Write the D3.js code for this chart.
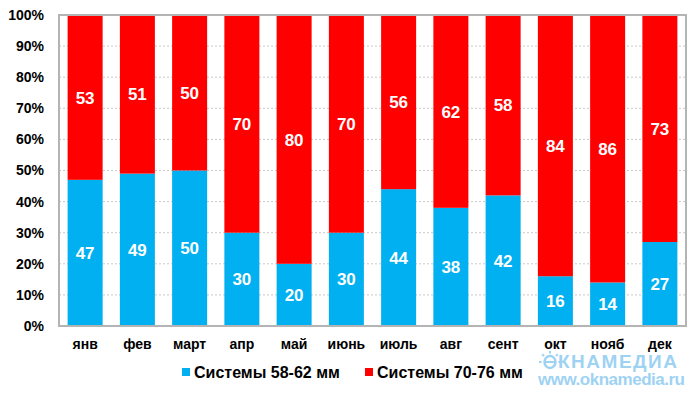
<!DOCTYPE html>
<html>
<head>
<meta charset="utf-8">
<script src="https://cdn.jsdelivr.net/npm/d3@7"></script>
<style>
  body { margin: 0; background: #fff; }
  text { font-family: Arial, "Liberation Sans", sans-serif; font-weight: bold; }
</style>
</head>
<body>
<div id="chart"></div>
<script>
// data
var months = ["янв", "фев", "март", "апр", "май", "июнь", "июль", "авг", "сент", "окт", "нояб", "дек"];
var small = [47, 49, 50, 30, 20, 30, 44, 38, 42, 16, 14, 27];
var large = [53, 51, 50, 70, 80, 70, 56, 62, 58, 84, 86, 73];
var seriesNames = ["Системы 58-62 мм", "Системы 70-76 мм"];
var yTicks = [0, 10, 20, 30, 40, 50, 60, 70, 80, 90, 100];

var svgWidth = 700, svgHeight = 394;
var margin = {top: 15, right: 14, bottom: 68, left: 59};
var width = svgWidth - margin.left - margin.right;
var height = svgHeight - margin.top - margin.bottom;

var svg = d3.select("#chart").append("svg")
  .attr("width", svgWidth)
  .attr("height", svgHeight);

var g = svg.append("g")
  .attr("transform", `translate(${margin.left},${margin.top})`);

var x = d3.scaleBand().domain(months).range([0, width]).paddingInner(0.33).paddingOuter(0.165);
var y = d3.scaleLinear().domain([0, 100]).range([height, 0]);

// gridlines
g.selectAll(".grid").data(yTicks.slice(1, -1)).enter().append("line")
  .attr("x1", 0).attr("x2", width)
  .attr("y1", d => y(d)).attr("y2", d => y(d))
  .attr("stroke", "#c8c8c8").attr("stroke-dasharray", "2,2");

var data = months.map((m, i) => ({m: m, a: small[i], b: large[i]}));

// blue
g.selectAll(".barA").data(data).enter().append("rect")
  .attr("x", d => x(d.m)).attr("width", x.bandwidth())
  .attr("y", d => y(d.a)).attr("height", d => height - y(d.a))
  .attr("fill", "#00B0F0");
// red
g.selectAll(".barB").data(data).enter().append("rect")
  .attr("x", d => x(d.m)).attr("width", x.bandwidth())
  .attr("y", d => y(d.a + d.b)).attr("height", d => y(d.a) - y(d.a + d.b))
  .attr("fill", "#FF0000");

// value labels
g.selectAll(".lblA").data(data).enter().append("text")
  .attr("x", d => x(d.m) + x.bandwidth() / 2)
  .attr("y", d => y(d.a / 2)).attr("dy", "0.36em")
  .attr("text-anchor", "middle").attr("fill", "#fff").style("font-size", "17px")
  .text(d => d.a);
g.selectAll(".lblB").data(data).enter().append("text")
  .attr("x", d => x(d.m) + x.bandwidth() / 2)
  .attr("y", d => y(d.a + d.b / 2)).attr("dy", "0.36em")
  .attr("text-anchor", "middle").attr("fill", "#fff").style("font-size", "17px")
  .text(d => d.b);

// plot border
g.append("rect").attr("width", width).attr("height", height)
  .attr("fill", "none").attr("stroke", "#b4b4b4").attr("stroke-width", 2);

// y axis
var yAxis = g.append("g")
  .call(d3.axisLeft(y).tickValues(yTicks).tickFormat(d => d + "%").tickSize(0).tickPadding(15));
yAxis.select(".domain").remove();
yAxis.selectAll("text").style("font-size", "14px").attr("fill", "#000");

// x axis
var xAxis = g.append("g").attr("transform", `translate(0,${height})`)
  .call(d3.axisBottom(x).tickSize(0).tickPadding(13));
xAxis.select(".domain").remove();
xAxis.selectAll("text").style("font-size", "14px").attr("fill", "#000");

// legend
var legend = svg.append("g").attr("transform", "translate(182,372)");
var legendColors = ["#00B0F0", "#FF0000"];
var legendX = [0, 183];
seriesNames.forEach(function(name, i) {
  legend.append("rect").attr("x", legendX[i]).attr("y", -4).attr("width", 8).attr("height", 8)
    .attr("fill", legendColors[i]);
  legend.append("text").attr("x", legendX[i] + 12).attr("y", 0).attr("dy", "0.36em")
    .style("font-size", "16px").attr("fill", "#000").text(name);
});

// watermark
var wm = svg.append("g").attr("opacity", 0.45);
var wmColor = "#2a9de6";
wm.append("ellipse").attr("cx", 550).attr("cy", 362).attr("rx", 5.5).attr("ry", 6)
  .attr("fill", "none").attr("stroke", wmColor).attr("stroke-width", 2.5);
wm.append("line").attr("x1", 545).attr("x2", 555).attr("y1", 362).attr("y2", 362)
  .attr("stroke", wmColor).attr("stroke-width", 2);
[-180, -135, -90, -45, 0].forEach(function(a) {
  var r = a * Math.PI / 180;
  wm.append("line")
    .attr("x1", 550 + 8.5 * Math.cos(r)).attr("y1", 362 + 8.5 * Math.sin(r))
    .attr("x2", 550 + 11 * Math.cos(r)).attr("y2", 362 + 11 * Math.sin(r))
    .attr("stroke", wmColor).attr("stroke-width", 2);
});
wm.append("text").attr("x", 558).attr("y", 368).style("font-size", "19px")
  .attr("textLength", 119).attr("fill", wmColor).text("КНАМЕДИА");
wm.append("text").attr("x", 538).attr("y", 385).style("font-size", "17px")
  .attr("textLength", 147).attr("fill", wmColor).text("www.oknamedia.ru");
</script>
</body>
</html>
